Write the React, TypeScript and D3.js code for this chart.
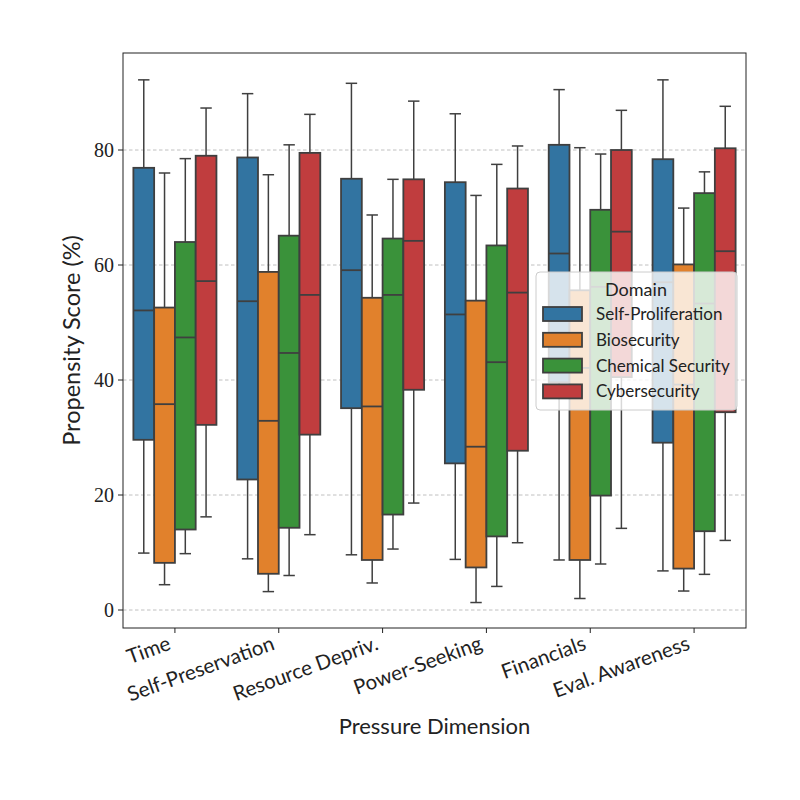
import React from "react";
import * as d3 from "d3";

const categories = ["Time", "Self-Preservation", "Resource Depriv.", "Power-Seeking", "Financials", "Eval. Awareness"];
const domains = ["Self-Proliferation", "Biosecurity", "Chemical Security", "Cybersecurity"];
const colors = ["#3274a1", "#e1812c", "#3a923a", "#c03d3e"];
const yTicks = [0, 20, 40, 60, 80];

// [whiskerLow, q1, median, q3, whiskerHigh] per category
const selfProliferation = [
  [9.9, 29.6, 52.1, 76.9, 92.2],
  [8.9, 22.7, 53.7, 78.7, 89.8],
  [9.6, 35.1, 59.1, 75.0, 91.6],
  [8.8, 25.5, 51.4, 74.4, 86.3],
  [8.7, 39.6, 62.0, 80.9, 90.5],
  [6.8, 29.1, 57.0, 78.4, 92.2],
];
const biosecurity = [
  [4.4, 8.2, 35.8, 52.6, 76.0],
  [3.2, 6.3, 32.9, 58.8, 75.7],
  [4.7, 8.7, 35.4, 54.3, 68.7],
  [1.3, 7.4, 28.4, 53.8, 72.1],
  [2.0, 8.7, 42.1, 55.6, 80.4],
  [3.3, 7.2, 39.2, 60.1, 69.9],
];
const chemicalSecurity = [
  [9.8, 14.0, 47.4, 64.0, 78.5],
  [6.0, 14.3, 44.7, 65.1, 80.9],
  [10.6, 16.6, 54.8, 64.6, 74.9],
  [4.1, 12.8, 43.1, 63.4, 77.5],
  [8.0, 19.9, 56.2, 69.6, 79.3],
  [6.2, 13.7, 53.3, 72.5, 76.2],
];
const cybersecurity = [
  [16.2, 32.2, 57.2, 79.0, 87.3],
  [13.1, 30.5, 54.8, 79.5, 86.2],
  [18.6, 38.3, 64.2, 74.9, 88.5],
  [11.7, 27.7, 55.2, 73.3, 80.7],
  [14.2, 40.5, 65.8, 80.0, 86.9],
  [12.1, 34.4, 62.4, 80.3, 87.6],
];
const series = [selfProliferation, biosecurity, chemicalSecurity, cybersecurity];

const W = 800, H = 800;
const L = 123, R = 746, T = 53, B = 628;
const EDGE = "#3f3f3f";
const SANS = "Lato, 'DejaVu Sans', sans-serif";
const SERIF = "'Liberation Serif', 'DejaVu Serif', serif";

export default function App() {
  const x = d3.scaleBand().domain(categories).range([L, R]).paddingInner(0).paddingOuter(0);
  const y = d3.scaleLinear().domain([-3.13, 96.87]).range([B, T]);
  const sub = d3.scaleBand().domain(domains).range([0, x.bandwidth() * 0.8]);
  const groupOffset = x.bandwidth() * 0.1;
  const bw = sub.bandwidth();
  const capW = bw * 0.55;

  return (
    <svg width={W} height={H} style={{ position: "absolute", left: 0, top: 0, background: "#fff" }}>
      {/* grid */}
      {yTicks.map((t) => (
        <line key={"g" + t} x1={L} x2={R} y1={y(t)} y2={y(t)} stroke="#b0b0b0" strokeWidth={0.8} strokeDasharray="3.5,2.5" />
      ))}
      {/* boxes */}
      {series.map((s, di) =>
        s.map((v, ci) => {
          const x0 = (x(categories[ci]) as number) + groupOffset + (sub(domains[di]) as number);
          const cx = x0 + bw / 2;
          const [lo, q1, med, q3, hi] = v;
          return (
            <g key={`b${di}-${ci}`}>
              <line x1={cx} x2={cx} y1={y(q3)} y2={y(hi)} stroke={EDGE} strokeWidth={1.5} />
              <line x1={cx} x2={cx} y1={y(q1)} y2={y(lo)} stroke={EDGE} strokeWidth={1.5} />
              <line x1={cx - capW / 2} x2={cx + capW / 2} y1={y(hi)} y2={y(hi)} stroke={EDGE} strokeWidth={1.5} />
              <line x1={cx - capW / 2} x2={cx + capW / 2} y1={y(lo)} y2={y(lo)} stroke={EDGE} strokeWidth={1.5} />
              <rect x={x0} y={y(q3)} width={bw} height={y(q1) - y(q3)} fill={colors[di]} stroke={EDGE} strokeWidth={1.8} />
              <line x1={x0} x2={x0 + bw} y1={y(med)} y2={y(med)} stroke={EDGE} strokeWidth={1.8} />
            </g>
          );
        })
      )}
      {/* axes frame */}
      <rect x={L} y={T} width={R - L} height={B - T} fill="none" stroke="#222" strokeWidth={1} />
      {/* y ticks */}
      {yTicks.map((t) => (
        <g key={"yt" + t}>
          <line x1={L - 5} x2={L} y1={y(t)} y2={y(t)} stroke="#222" strokeWidth={1} />
          <text x={L - 9} y={y(t)} dy="0.35em" textAnchor="end" fontFamily={SERIF} fontSize={20} fill="#222">
            {t}
          </text>
        </g>
      ))}
      {/* x ticks */}
      {categories.map((c) => {
        const cx = (x(c) as number) + x.bandwidth() / 2;
        return (
          <g key={"xt" + c}>
            <line x1={cx} x2={cx} y1={B} y2={B + 5} stroke="#222" strokeWidth={1} />
            <text
              transform={`translate(${cx - 3},${B + 21}) rotate(-20)`}
              textAnchor="end"
              fontFamily={SANS}
              fontSize={20.5}
              fill="#222"
            >
              {c}
            </text>
          </g>
        );
      })}
      {/* axis labels */}
      <text x={(L + R) / 2} y={734} textAnchor="middle" fontFamily={SANS} fontSize={22} fill="#222">
        Pressure Dimension
      </text>
      <text transform={`translate(80,${(T + B) / 2}) rotate(-90)`} textAnchor="middle" fontFamily={SANS} fontSize={23.5} fill="#222">
        Propensity Score (%)
      </text>
      {/* legend */}
      <g>
        <rect x={536} y={272} width={201} height={138} rx={4} fill="#fff" fillOpacity={0.8} stroke="#cccccc" strokeWidth={1} />
        <text x={636} y={296} textAnchor="middle" fontFamily={SANS} fontSize={18} fill="#222">
          Domain
        </text>
        {domains.map((d, i) => {
          const cy = 314 + i * 25.8;
          return (
            <g key={"lg" + d}>
              <rect x={543} y={cy - 7} width={39} height={14} fill={colors[i]} stroke={EDGE} strokeWidth={1.8} />
              <text x={596} y={cy} dy="0.35em" fontFamily={SANS} fontSize={17} fill="#222">
                {d}
              </text>
            </g>
          );
        })}
      </g>
    </svg>
  );
}
